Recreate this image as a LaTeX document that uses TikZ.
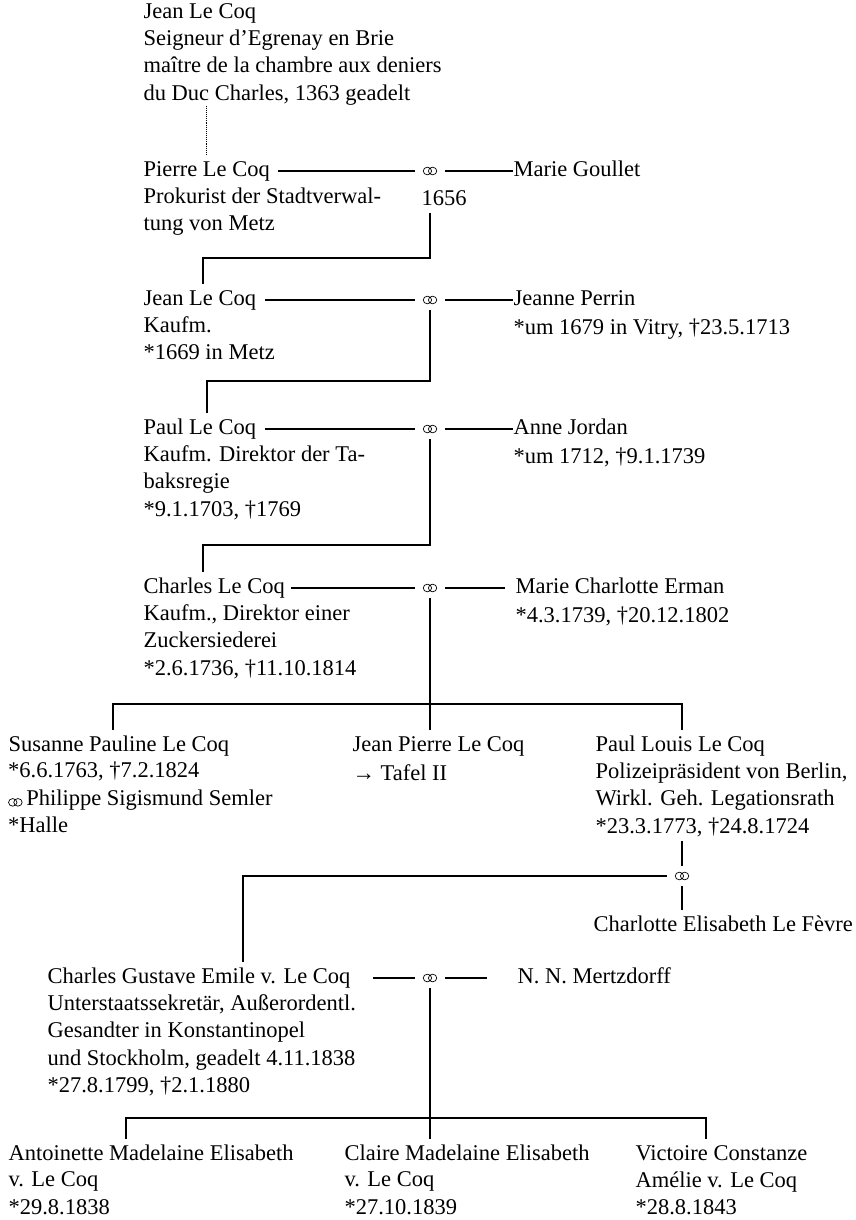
\documentclass[tikz,border=0pt]{standalone}
\usepackage{fontspec}
\setmainfont{Liberation Serif}
\usetikzlibrary{positioning, calc}

\newcommand{\wedsym}{\tikz[baseline=-3pt, x=1pt, y=1pt, line width=0.7pt]{\draw (-2.6,0) ellipse (4.2 and 3.8) (2.6,0) ellipse (4.2 and 3.8);}}

\begin{document}
\begin{tikzpicture}[x=1pt, y=-1pt, line width=1.1pt,
    every node/.style={font=\fontsize{22.5}{27.5}\selectfont, inner sep=0pt},
    person/.style={anchor=west, inner ysep=5pt, text height=16pt, text depth=5pt},
    details/.style={anchor=north west, align=left, execute at begin node=\rule{0pt}{17.5pt}},
    wed/.style={minimum width=30pt, minimum height=20pt}]
    \useasboundingbox (0,0) rectangle (855,1220);

    \node[person] (jean0) at (143,13) {Jean Le Coq};
    \node[details] (jean0-d) at (jean0.south west) {Seigneur d’Egrenay en Brie\\maître de la chambre aux deniers\\du Duc Charles, 1363 geadelt};

    \node[person] (pierre) at (143,171) {Pierre Le Coq};
    \node[details] (pierre-d) at (pierre.south west) {Prokurist der Stadtverwal-\\tung von Metz};
    \node[wed] (m1) at (430,171) {\wedsym};
    \node[anchor=west] (year) at (421,198.5) {1656};
    \node[person] (goullet) at (513,171) {Marie Goullet};

    \node[person] (jean1) at (143,300) {Jean Le Coq};
    \node[details] (jean1-d) at (jean1.south west) {Kaufm.\\*1669 in Metz};
    \node[wed] (m2) at (430,300) {\wedsym};
    \node[person] (perrin) at (513,300) {Jeanne Perrin};
    \node[details] (perrin-d) at (perrin.south west) {*um 1679 in Vitry, †23.5.1713};

    \node[person] (paul) at (143,429) {Paul Le Coq};
    \node[details] (paul-d) at (paul.south west) {Kaufm. Direktor der Ta-\\baksregie\\*9.1.1703, †1769};
    \node[wed] (m3) at (430,429) {\wedsym};
    \node[person] (jordan) at (513,429) {Anne Jordan};
    \node[details] (jordan-d) at (jordan.south west) {*um 1712, †9.1.1739};

    \node[person] (charles) at (143,588) {Charles Le Coq};
    \node[details] (charles-d) at (charles.south west) {Kaufm., Direktor einer\\Zuckersiederei\\*2.6.1736, †11.10.1814};
    \node[wed] (m4) at (430,588) {\wedsym};
    \node[person] (erman) at (515,588) {Marie Charlotte Erman};
    \node[details] (erman-d) at (erman.south west) {*4.3.1739, †20.12.1802};

    \node[person] (susanne) at (8,746) {Susanne Pauline Le Coq};
    \node[details] (susanne-d) at (susanne.south west) {*6.6.1763, †7.2.1824\\\wedsym\,Philippe Sigismund Semler\\*Halle};
    \node[person] (jeanpierre) at (352,746) {Jean Pierre Le Coq};
    \node[details] (jeanpierre-d) at (jeanpierre.south west) {→ Tafel II};
    \node[person] (paullouis) at (595,746) {Paul Louis Le Coq};
    \node[details] (paullouis-d) at (paullouis.south west) {Polizeipräsident von Berlin,\\Wirkl. Geh. Legationsrath\\*23.3.1773, †24.8.1724};
    \node[wed] (m5) at (682,876) {\wedsym};
    \node[person] (charlotte) at (593,926) {Charlotte Elisabeth Le Fèvre};

    \node[person] (gustave) at (47,978) {Charles Gustave Emile v. Le Coq};
    \node[details] (gustave-d) at (gustave.south west) {Unterstaatssekretär, Außerordentl.\\Gesandter in Konstantinopel\\und Stockholm, geadelt 4.11.1838\\*27.8.1799, †2.1.1880};
    \node[wed] (m6) at (430,978) {\wedsym};
    \node[person] (mertzdorff) at (517,978) {N. N. Mertzdorff};

    \node[person] (antoinette) at (8,1155) {Antoinette Madelaine Elisabeth};
    \node[details] (antoinette-d) at (antoinette.south west) {v. Le Coq\\*29.8.1838};
    \node[person] (claire) at (344,1155) {Claire Madelaine Elisabeth};
    \node[details] (claire-d) at (claire.south west) {v. Le Coq\\*27.10.1839};
    \node[person] (victoire) at (635,1155) {Victoire Constanze};
    \node[details] (victoire-d) at (victoire.south west) {Amélie v. Le Coq\\*28.8.1843};

    \coordinate (k1) at (203,258);
    \coordinate (k2) at (207,381);
    \coordinate (k3) at (203,545);
    \coordinate (b1l) at (113,704);
    \coordinate (b1r) at (682,704);
    \coordinate (k5) at (243,876);
    \coordinate (b2l) at (126,1118);
    \coordinate (b2r) at (706,1118);

    \draw[densely dotted] (pierre.north |- jean0-d.south) -- (pierre.north);

    \draw[shorten >=8pt] (m1.west) -- (m1 -| pierre.east);
    \draw (m1.east) -- (m1 -| goullet.west);
    \draw[shorten <=6pt] (m1 |- year.south) -- (m1 |- k1) -- (k1) -- (k1 |- jean1.north);

    \draw[shorten >=8pt] (m2.west) -- (m2 -| jean1.east);
    \draw (m2.east) -- (m2 -| perrin.west);
    \draw (m2.south) -- (m2 |- k2) -- (k2) -- (k2 |- paul.north);

    \draw[shorten >=8pt] (m3.west) -- (m3 -| paul.east);
    \draw (m3.east) -- (m3 -| jordan.west);
    \draw (m3.south) -- (m3 |- k3) -- (k3) -- (k3 |- charles.north);

    \draw[shorten >=6pt] (m4.west) -- (m4 -| charles.east);
    \draw[shorten >=10pt] (m4.east) -- (m4 -| erman.west);
    \draw (m4.south) -- (m4 |- jeanpierre.north);
    \draw (b1l |- susanne.north) -- (b1l) -- (b1r) -- (b1r |- paullouis.north);

    \draw[shorten <=4pt] (m5 |- paullouis-d.south) -- (m5.north);
    \draw (m5.south) -- (m5 |- charlotte.north);
    \draw (m5.west) -- (k5) -- (k5 |- gustave.north);

    \draw[shorten >=22pt] (m6.west) -- (m6 -| gustave.east);
    \draw[shorten >=30pt] (m6.east) -- (m6 -| mertzdorff.west);
    \draw (m6.south) -- (m6 |- claire.north);
    \draw (b2l |- antoinette.north) -- (b2l) -- (b2r) -- (b2r |- victoire.north);
\end{tikzpicture}
\end{document}
